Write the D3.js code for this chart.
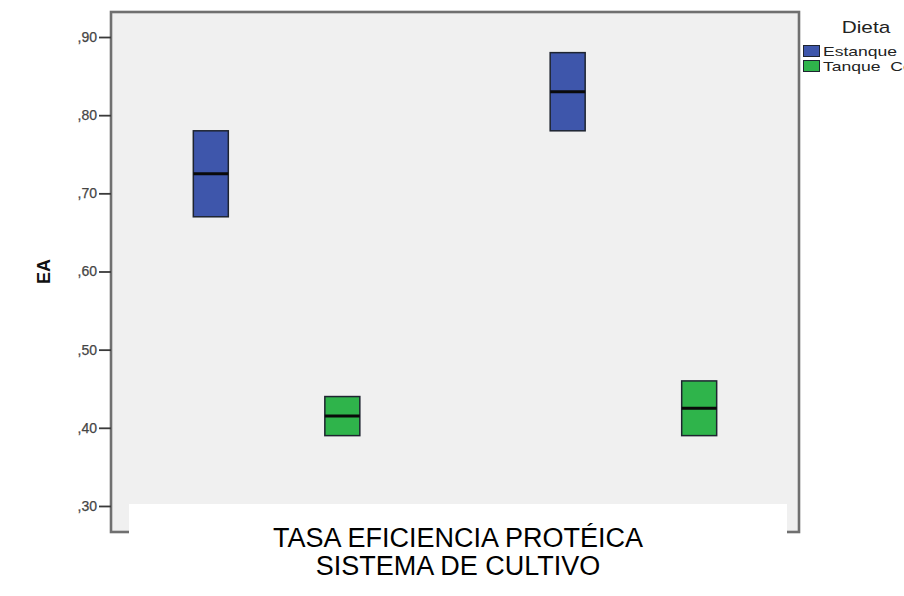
<!DOCTYPE html>
<html>
<head>
<meta charset="utf-8">
<script src="https://cdn.jsdelivr.net/npm/d3@7"></script>
<style>
  html, body { margin: 0; padding: 0; background: #ffffff; }
  svg { display: block; font-family: "Liberation Sans", Arial, sans-serif; }
</style>
</head>
<body>
<svg id="chart" width="904" height="596"></svg>
<script>
// Culture systems (x categories) and diet series
const systems = ["Sistema 1", "Sistema 2"];
const series = ["Estanque", "Tanque  Cemento"];
const seriesColors = ["#3e56ab", "#2fb44b"];

// Box extents (low edge, median, high edge) per series, one value per system
const estanqueLow = [0.67, 0.78];
const estanqueMedian = [0.725, 0.83];
const estanqueHigh = [0.78, 0.88];
const tanqueLow = [0.39, 0.39];
const tanqueMedian = [0.415, 0.425];
const tanqueHigh = [0.44, 0.46];

// Y axis ticks and their labels
const yTicks = [0.30, 0.40, 0.50, 0.60, 0.70, 0.80, 0.90];
const yTickLabels = [",30", ",40", ",50", ",60", ",70", ",80", ",90"];

const yLabel = "EA";
const legendTitle = "Dieta";
const titleLines = ["TASA EFICIENCIA PROTÉICA", "SISTEMA DE CULTIVO"];

const svg = d3.select("#chart");

const plot = { left: 111, right: 799, top: 12, bottom: 532 };

const y = d3.scaleLinear().domain([0.2667, 0.932]).range([plot.bottom, plot.top]);
const x = d3.scalePoint().domain(systems).range([plot.left, plot.right]).padding(0.464);
const xInner = d3.scaleBand().domain(series).range([-83.25, 83.25]).paddingInner(0.734);

const boxes = [];
systems.forEach((s, i) => {
  boxes.push({ sys: s, ser: series[0], lo: estanqueLow[i], med: estanqueMedian[i], hi: estanqueHigh[i], color: seriesColors[0] });
  boxes.push({ sys: s, ser: series[1], lo: tanqueLow[i], med: tanqueMedian[i], hi: tanqueHigh[i], color: seriesColors[1] });
});

// Plot background
svg.append("rect")
  .attr("x", plot.left).attr("y", plot.top)
  .attr("width", plot.right - plot.left).attr("height", plot.bottom - plot.top)
  .attr("fill", "#f0f0f0");

// Boxes
const g = svg.append("g");
boxes.forEach(b => {
  const cx = x(b.sys) + xInner(b.ser);
  g.append("rect")
    .attr("x", cx).attr("width", xInner.bandwidth())
    .attr("y", y(b.hi)).attr("height", y(b.lo) - y(b.hi))
    .attr("fill", b.color)
    .attr("stroke", "#1e2430").attr("stroke-width", 1.5);
  g.append("line")
    .attr("x1", cx).attr("x2", cx + xInner.bandwidth())
    .attr("y1", y(b.med)).attr("y2", y(b.med))
    .attr("stroke", "#0a0a0a").attr("stroke-width", 3);
});

// Frame
svg.append("rect")
  .attr("x", plot.left).attr("y", plot.top)
  .attr("width", plot.right - plot.left).attr("height", plot.bottom - plot.top)
  .attr("fill", "none").attr("stroke", "#707070").attr("stroke-width", 2.6);

// Y axis
const yAxis = d3.axisLeft(y)
  .tickValues(yTicks)
  .tickFormat((d, i) => yTickLabels[i])
  .tickSize(12).tickSizeOuter(0).tickPadding(2);
const ya = svg.append("g").attr("transform", `translate(${plot.left},0)`).call(yAxis);
ya.select(".domain").remove();
ya.selectAll(".tick line").attr("stroke", "#3a3a3a").attr("stroke-width", 1.8);
ya.selectAll(".tick text")
  .attr("fill", "#454545").attr("font-size", 14)
  .attr("font-family", "'Liberation Sans', Arial, sans-serif")
  .attr("stroke", "#454545").attr("stroke-width", 0.25);

// Y axis title
svg.append("text")
  .attr("transform", `translate(44,${y(0.60)}) rotate(-90)`)
  .attr("text-anchor", "middle").attr("dominant-baseline", "central")
  .attr("font-weight", "bold").attr("font-size", 18).attr("fill", "#111")
  .text(yLabel);

// Title block covering the category axis
svg.append("rect")
  .attr("x", 129).attr("y", 504).attr("width", 658).attr("height", 92)
  .attr("fill", "#ffffff");
const title = svg.append("text")
  .attr("text-anchor", "middle").attr("font-size", 27).attr("fill", "#000");
titleLines.forEach((t, i) => {
  title.append("tspan").attr("x", 458).attr("y", 547 + i * 28).text(t);
});

// Legend
const legend = svg.append("g");
legend.append("text")
  .attr("transform", "translate(866,33) scale(1.3,1)")
  .attr("text-anchor", "middle").attr("font-size", 16).attr("fill", "#222")
  .text(legendTitle);
series.forEach((s, i) => {
  const yy = 45 + i * 15;
  legend.append("rect")
    .attr("x", 803.5).attr("y", yy + 0.5).attr("width", 16).attr("height", 11)
    .attr("fill", seriesColors[i]).attr("stroke", "#1e2430").attr("stroke-width", 1);
  legend.append("text")
    .attr("transform", `translate(823,${yy + 10.5}) scale(1.35,1)`)
    .attr("font-size", 13).attr("fill", "#222")
    .style("white-space", "pre")
    .text(s);
});
</script>
</body>
</html>
